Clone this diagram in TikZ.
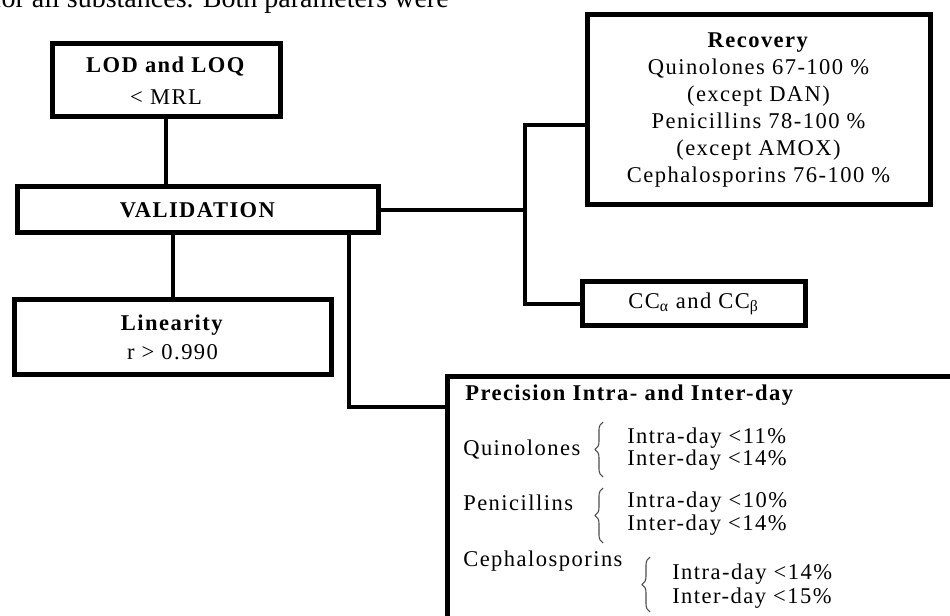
\documentclass[tikz,border=0pt]{standalone}
\usepackage{fontspec}
\setmainfont{Liberation Serif}
\newfontfamily\bxf{Liberation Serif}[LetterSpace=6.5]
\usetikzlibrary{decorations.pathreplacing}
\def\px{0.75pt}
\tikzset{
  box/.style={draw=black, line width=3.75pt, fill=white, inner sep=0pt, align=center,
    font=\bxf\fontsize{16.9}{20.25}\selectfont},
  conn/.style={line width=3pt},
  txt/.style={inner sep=0pt, anchor=base west, font=\bxf\fontsize{16.9}{17}\selectfont},
  brc/.style={decorate, decoration={brace, amplitude=6pt}, line width=0.8pt, draw=black!70},
}
\begin{document}
\begin{tikzpicture}[x=0.75pt,y=-0.75pt]
\useasboundingbox (0,0) rectangle (950,616);
\clip (0,0) rectangle (950,616);
\node[anchor=base west, inner sep=0pt, font=\fontsize{21}{24}\selectfont] (frag) at (-8,7.5) {for all substances. Both parameters were};

\node[box, minimum width=228*\px, minimum height=73*\px, font=\bxf\fontsize{16.9}{24}\selectfont] (lod) at (166,80.5) {\textbf{LOD and LOQ}\\< MRL};
\node[box, minimum width=361*\px, minimum height=46*\px, font=\bxf\bfseries\fontsize{16.9}{18}\selectfont] (val) at (197.5,210) {VALIDATION};
\node[box, minimum width=317*\px, minimum height=75*\px, font=\bxf\fontsize{16.9}{21.75}\selectfont] (lin) at (172.5,337.5) {\textbf{Linearity}\\r > 0.990};
\node[box, minimum width=343*\px, minimum height=190*\px] (rec) at (758.5,110) {\textbf{Recovery}\\Quinolones 67-100 \%\\(except DAN)\\Penicillins 78-100 \%\\(except AMOX)\\Cephalosporins 76-100 \%};
\node[box, minimum width=223*\px, minimum height=44*\px] (cc) at (693.5,304) {CC\textsubscript{α} and CC\textsubscript{β}};
\node[box, anchor=north west, minimum width=600*\px, minimum height=300*\px] (prec) at (445,374) {};

\node[txt, font=\bxf\bfseries\fontsize{16.9}{17}\selectfont] (pt) at (465,401) {Precision Intra- and Inter-day};
\node[txt] (q) at (463,456) {Quinolones};
\node[txt] (q1) at (627,444) {Intra-day <11\%};
\node[txt] (q2) at (627,466) {Inter-day <14\%};
\node[txt] (p) at (463,511) {Penicillins};
\node[txt] (p1) at (627,508) {Intra-day <10\%};
\node[txt] (p2) at (627,531) {Inter-day <14\%};
\node[txt] (c) at (463,566) {Cephalosporins};
\node[txt] (c1) at (672,579) {Intra-day <14\%};
\node[txt] (c2) at (672,603) {Inter-day <15\%};

\draw[brc] (603,477) -- (603,422);
\draw[brc] (603,543) -- (603,488);
\draw[brc] (650,612) -- (650,557);

\coordinate (jt) at (525,125);
\coordinate (jb) at (525,304);
\coordinate (k) at (349,407);
\draw[conn] (val.east) -- (val.east -| jt);
\draw[conn] (rec.west |- jt) -- (jt) -- (jb) -- (cc.west);
\draw[conn] (lod.south) -- (lod.south |- val.north);
\draw[conn] (lin.north |- val.south) -- (lin.north);
\draw[conn] (val.south -| k) -- (k) -- (k -| prec.west);
\end{tikzpicture}
\end{document}
